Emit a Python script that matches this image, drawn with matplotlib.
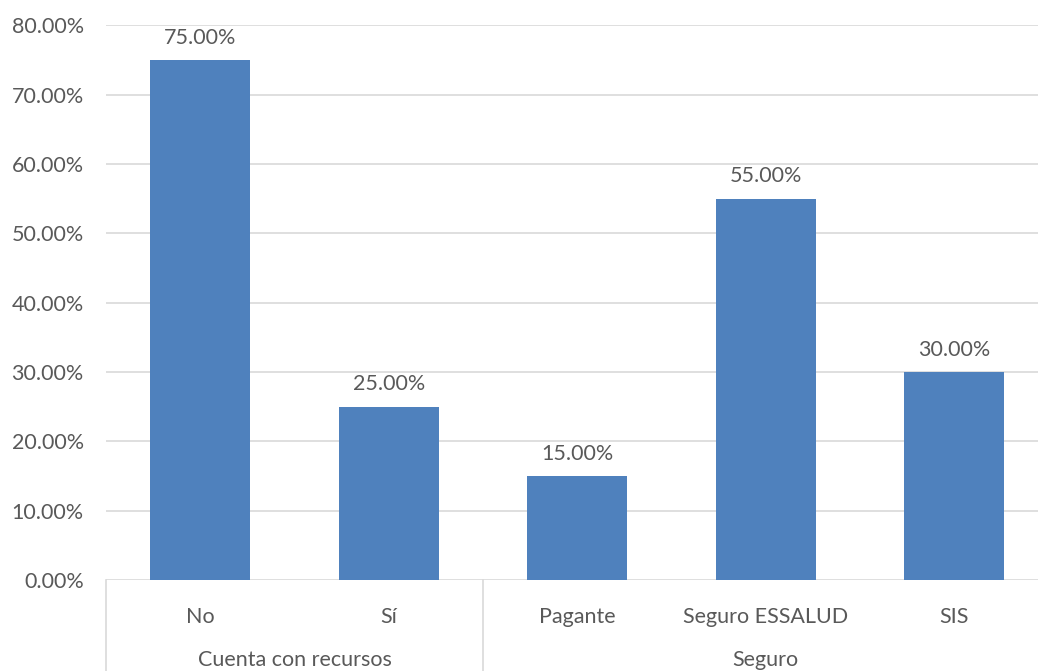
import numpy as np
import matplotlib.pyplot as plt
from matplotlib.ticker import FuncFormatter

categorias = ['No', 'Sí', 'Pagante', 'Seguro ESSALUD', 'SIS']
valores = [75.0, 25.0, 15.0, 55.0, 30.0]
grupos = ['Cuenta con recursos', 'Seguro']
grupo_tamanos = [2, 3]

plt.rcParams['font.family'] = ['Lato', 'DejaVu Sans']

color_barra = '#4F81BD'
color_texto = '#595959'
color_linea = '#D9D9D9'
tam = 15.5

fig = plt.figure(figsize=(10.38, 6.71), dpi=100)
W, H = 1038, 671
x0, x1 = 106, 1038
y_top, y_bot = 25.3, 580
ax = fig.add_axes([x0 / W, 1 - y_bot / H, (x1 - x0) / W, (y_bot - y_top) / H])

x = np.arange(len(categorias))
barras = ax.bar(x, valores, width=0.53, color=color_barra, zorder=3)

for xi, v in zip(x, valores):
    ax.annotate(f'{v:.2f}%', (xi, v), xytext=(0, 16), textcoords='offset points',
                ha='center', va='center', fontsize=tam, color=color_texto)

ax.set_ylim(0, 80)
ax.set_xlim(-0.5, 4.444)
ax.set_yticks(np.arange(0, 81, 10))
ax.yaxis.set_major_formatter(FuncFormatter(lambda v, p: f'{v:.2f}%'))
ax.tick_params(axis='y', length=0, pad=16, labelsize=tam, labelcolor=color_texto)
ax.set_xticks([])
ax.grid(axis='y', color=color_linea, linewidth=1.2, zorder=0)
for s in ax.spines.values():
    s.set_visible(False)

# eje de categorias de dos niveles
tr = ax.get_xaxis_transform()
alto_ax = y_bot - y_top
y_cat = -37 / alto_ax
y_grp = -80 / alto_ax
y_fin = -(H - y_bot) / alto_ax

for xi, c in zip(x, categorias):
    ax.text(xi, y_cat, c, transform=tr, ha='center', va='center',
            fontsize=tam, color=color_texto)

inicio = -0.5
ax.plot([inicio, inicio], [0, y_fin], transform=tr, color=color_linea,
        linewidth=1.2, clip_on=False)
for g, n in zip(grupos, grupo_tamanos):
    fin = inicio + n
    ax.text((inicio + fin) / 2, y_grp, g, transform=tr, ha='center', va='center',
            fontsize=tam, color=color_texto)
    ax.plot([fin, fin], [0, y_fin], transform=tr, color=color_linea,
            linewidth=1.2, clip_on=False)
    inicio = fin

fig.savefig('out.png', dpi=100)
